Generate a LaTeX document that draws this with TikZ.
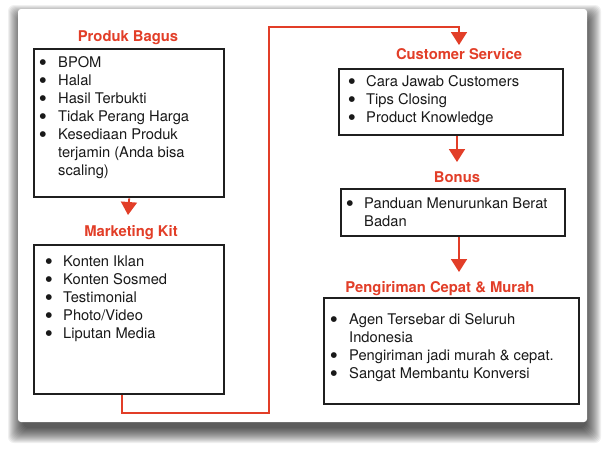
\documentclass[tikz,border=0pt]{standalone}
\usepackage{fontspec}
\setmainfont{TeX Gyre Heros}
\newfontfamily\dotfont{DejaVu Sans}
\usetikzlibrary{arrows.meta}
\definecolor{accent}{RGB}{226,62,40}
\tikzset{
  boxframe/.style={draw=black!88, line width=2.4pt, inner sep=0pt, anchor=north west},
  heading/.style={text=accent, font=\fontsize{14.8}{18}\selectfont\bfseries, anchor=base, inner sep=0pt},
  listtext/.style={font=\fontsize{14.7}{18}\selectfont, anchor=base west, inner sep=0pt, text=black!90},
  flow/.style={draw=accent, line width=1.8pt, -{Triangle[width=16pt,length=13pt]}},
}
\newcommand{\bul}[1]{\makebox[#1][l]{\raisebox{2.6pt}{\dotfont\fontsize{7.5}{8}\selectfont ●}}}
\begin{document}
\begin{tikzpicture}[x=1pt,y=-1pt]
\useasboundingbox (0,0) rectangle (605,450);
\fill[white] (0,0) rectangle (605,450);
% panel shadow and panel
\foreach \i in {1,...,16} {
  \fill[black, opacity=0.06, rounded corners=6pt] (24-\i,21-\i) rectangle (585+\i,427+\i);
}
\fill[white, rounded corners=3pt] (18,9) rectangle (587,422);

% boxes
\node[boxframe, minimum width=190pt, minimum height=148pt] (b1) at (33,48) {};
\node[boxframe, minimum width=190pt, minimum height=149pt] (b2) at (33,244) {};
\node[boxframe, minimum width=224pt, minimum height=66pt] (b3) at (338,68) {};
\node[boxframe, minimum width=224pt, minimum height=47pt] (b4) at (340,188) {};
\node[boxframe, minimum width=255pt, minimum height=106pt] (b5) at (323,297) {};

% headings
\node[heading] (h1) at (128,41.5) {Produk Bagus};
\node[heading] (h2) at (131,236) {Marketing Kit};
\node[heading] (h3) at (459,59) {Customer Service};
\node[heading] (h4) at (457,182.5) {Bonus};
\node[heading] (h5) at (440,292) {Pengiriman Cepat \& Murah};

% lists
\node[listtext] (l1) at (39.4,67.5) {\begin{tabular}[t]{@{}l@{}l@{}}
\bul{18.6pt}&BPOM\\
\bul{18.6pt}&Halal\\
\bul{18.6pt}&Hasil Terbukti\\
\bul{18.6pt}&Tidak Perang Harga\\
\bul{18.6pt}&Kesediaan Produk\\
&terjamin (Anda bisa\\
&scaling)
\end{tabular}};
\node[listtext] (l2) at (45.4,266.5) {\begin{tabular}[t]{@{}l@{}l@{}}
\bul{17.6pt}&Konten Iklan\\
\bul{17.6pt}&Konten Sosmed\\
\bul{17.6pt}&Testimonial\\
\bul{17.6pt}&Photo/Video\\
\bul{17.6pt}&Liputan Media
\end{tabular}};
\node[listtext] (l3) at (348.4,86) {\begin{tabular}[t]{@{}l@{}l@{}}
\bul{17.6pt}&Cara Jawab Customers\\
\bul{17.6pt}&Tips Closing\\
\bul{17.6pt}&Product Knowledge
\end{tabular}};
\node[listtext] (l4) at (346.4,208.5) {\begin{tabular}[t]{@{}l@{}l@{}}
\bul{17.6pt}&Panduan Menurunkan Berat\\
&Badan
\end{tabular}};
\node[listtext] (l5) at (330.4,324.5) {\begin{tabular}[t]{@{}l@{}l@{}}
\bul{18.6pt}&Agen Tersebar di Seluruh\\
&Indonesia\\
\bul{18.6pt}&Pengiriman jadi murah \& cepat.\\
\bul{18.6pt}&Sangat Membantu Konversi
\end{tabular}};

% connectors
\coordinate (a1) at (128,215);
\draw[flow] (b1.south) -- (a1);
\coordinate (k1) at (122,413);
\coordinate (k2) at (269,413);
\coordinate (k3) at (269,27);
\coordinate (k4) at (459,27);
\coordinate (a2) at (459,45);
\draw[flow] (b2.south -| k1) -- (k1) -- (k2) -- (k3) -- (k4) -- (a2);
\coordinate (a3) at (457,162);
\draw[flow] (b3.south -| a3) -- (a3);
\coordinate (a4) at (459,272);
\draw[flow] (b4.south -| a4) -- (a4);
\end{tikzpicture}
\end{document}
